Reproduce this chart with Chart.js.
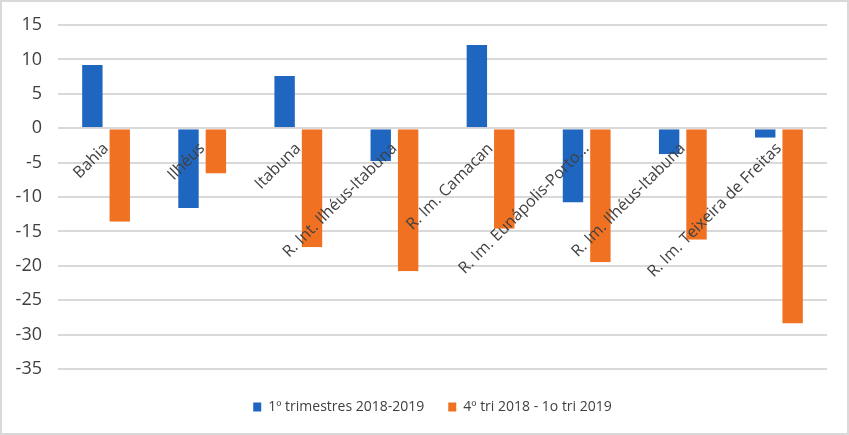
<!DOCTYPE html>
<html>
<head>
<meta charset="utf-8">
<script src="https://cdn.jsdelivr.net/npm/chart.js@4.4.1/dist/chart.umd.min.js"></script>
<style>
  html, body { margin: 0; padding: 0; background: #fff; }
  #wrap { width: 849px; height: 435px; box-sizing: border-box; border: 2px solid #d9d9d9; }
  canvas { display: block; }
</style>
</head>
<body>
<div id="wrap"><canvas id="chart" width="845" height="431"></canvas></div>
<script>
const categories = [
  'Bahia',
  'Ilhéus',
  'Itabuna',
  'R. Int. Ilhéus-Itabuna',
  'R. Im. Camacan',
  'R. Im. Eunápolis-Porto…',
  'R. Im. Ilhéus-Itabuna',
  'R. Im. Teixeira de Freitas'
];
const seriesNames = ['1º trimestres 2018-2019', '4º tri 2018 - 1o tri 2019'];
const firstQuarters = [9.2, -11.6, 7.6, -4.8, 12.1, -10.8, -3.8, -1.4];
const lastVsFirst = [-13.6, -6.6, -17.3, -20.8, -14.6, -19.5, -16.2, -28.4];
const yTicks = [15, 10, 5, 0, -5, -10, -15, -20, -25, -30, -35];

const blue = '#1f66c1';
const orange = '#f07122';
const textColor = '#404040';

// transparent side borders give the gap between the two bars of a group
const barStyle = {
  borderColor: 'rgba(0,0,0,0)',
  borderWidth: { left: 3.5, right: 3.5, top: 0, bottom: 0 },
  borderSkipped: false,
  barPercentage: 1,
  categoryPercentage: 0.57
};

// the legend in the original sits a bit right of centre and lower down
const legendShift = {
  id: 'legendShift',
  afterLayout(chart) {
    chart.legend.left += 36;
    chart.legend.top += 7;
    chart.legend.bottom += 7;
  }
};

const ctx = document.getElementById('chart').getContext('2d');
new Chart(ctx, {
  type: 'bar',
  data: {
    labels: categories,
    datasets: [
      Object.assign({ label: seriesNames[0], data: firstQuarters, backgroundColor: blue }, barStyle),
      Object.assign({ label: seriesNames[1], data: lastVsFirst, backgroundColor: orange }, barStyle)
    ]
  },
  plugins: [legendShift],
  options: {
    responsive: false,
    animation: false,
    layout: { padding: { top: 23, right: 20, bottom: 16, left: 0 } },
    plugins: {
      tooltip: { enabled: false },
      legend: {
        position: 'bottom',
        labels: {
          boxWidth: 8,
          boxHeight: 9,
          padding: 24,
          color: textColor,
          font: { family: "'Open Sans', sans-serif", size: 14 }
        }
      }
    },
    scales: {
      x: {
        position: { y: 0 },
        grid: { display: false },
        border: { display: false },
        ticks: {
          z: 1, // category labels drawn over the bars
          autoSkip: false,
          minRotation: 45,
          maxRotation: 45,
          color: textColor,
          font: { family: "'Open Sans', sans-serif", size: 16 }
        }
      },
      y: {
        min: Math.min(...yTicks),
        max: Math.max(...yTicks),
        afterBuildTicks: (scale) => { scale.ticks = yTicks.map(v => ({ value: v })); },
        afterFit: (scale) => { scale.width = 56; },
        grid: { color: '#d9d9d9', lineWidth: 2, tickLength: 16, tickColor: 'rgba(0,0,0,0)' },
        border: { display: false },
        ticks: {
          padding: 0,
          color: textColor,
          font: { family: "'Open Sans', sans-serif", size: 18 }
        }
      }
    }
  }
});
</script>
</body>
</html>
